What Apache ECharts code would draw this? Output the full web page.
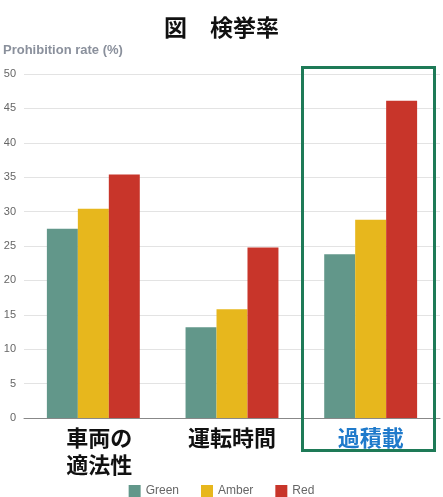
<!DOCTYPE html>
<html><head><meta charset="utf-8">
<script src="https://cdn.jsdelivr.net/npm/echarts@6/dist/echarts.min.js"></script>
<style>html,body{margin:0;padding:0;background:#fff}#c{width:443px;height:497px}</style>
</head><body><div id="c"></div>
<script>
const categories = ['車両の\n適法性', '運転時間', '過積載'];
const seriesNames = ['Green', 'Amber', 'Red'];
const greenValues = [27.5, 13.2, 23.8];
const amberValues = [30.4, 15.8, 28.8];
const redValues = [35.4, 24.8, 46.1];
const yTicks = [0, 5, 10, 15, 20, 25, 30, 35, 40, 45, 50];
const colors = ['#62978a', '#e7b71d', '#c8352a'];

const chart = echarts.init(document.getElementById('c'));
const cjk = '"Noto Sans CJK JP", sans-serif';
const latin = '"Liberation Sans", Arial, sans-serif';
chart.setOption({
  animation: false,
  title: {
    text: '図　検挙率', left: 'center', top: 11,
    textStyle: { fontFamily: cjk, fontSize: 23, fontWeight: 'bold', color: '#111' }
  },
  legend: {
    bottom: -5, left: 'center', itemWidth: 12, itemHeight: 12, itemGap: 22,
    icon: 'rect',
    textStyle: { fontFamily: latin, fontSize: 12, color: '#666' },
    data: seriesNames
  },
  grid: { left: 24, right: 3, top: 74, bottom: 79, containLabel: false },
  xAxis: {
    type: 'category',
    data: [
      { value: categories[0], textStyle: { padding: [0, 0, 0, 12] } },
      categories[1],
      { value: categories[2], textStyle: { color: '#1f7acb' } }
    ],
    axisTick: { show: false },
    axisLine: { lineStyle: { color: '#888', width: 1 } },
    axisLabel: {
      interval: 0, margin: 6, fontFamily: cjk, fontSize: 22, fontWeight: 'bold',
      color: '#111', lineHeight: 27
    }
  },
  yAxis: {
    type: 'value', min: yTicks[0], max: yTicks[yTicks.length - 1], interval: 5,
    name: 'Prohibition rate (%)', nameLocation: 'end', nameGap: 17,
    nameTextStyle: { fontFamily: latin, fontSize: 13, fontWeight: 'bold', color: '#8a909c', align: 'left', padding: [0, 0, 0, -21] },
    axisLine: { show: false }, axisTick: { show: false },
    axisLabel: { fontFamily: latin, fontSize: 11, color: '#666', margin: 8 },
    splitLine: { lineStyle: { color: '#e3e3e3', width: 1 } }
  },
  series: [
    { name: seriesNames[0], type: 'bar', data: greenValues, itemStyle: { color: colors[0] }, barGap: '0%', barCategoryGap: '33%' },
    { name: seriesNames[1], type: 'bar', data: amberValues, itemStyle: { color: colors[1] }, barGap: '0%', barCategoryGap: '33%' },
    { name: seriesNames[2], type: 'bar', data: redValues, itemStyle: { color: colors[2] }, barGap: '0%', barCategoryGap: '33%' }
  ],
  graphic: [{
    type: 'rect', shape: { x: 302.5, y: 67.5, width: 132, height: 383 },
    style: { fill: 'none', stroke: '#1e7a57', lineWidth: 3 }, z: 100
  }]
});
</script></body></html>
